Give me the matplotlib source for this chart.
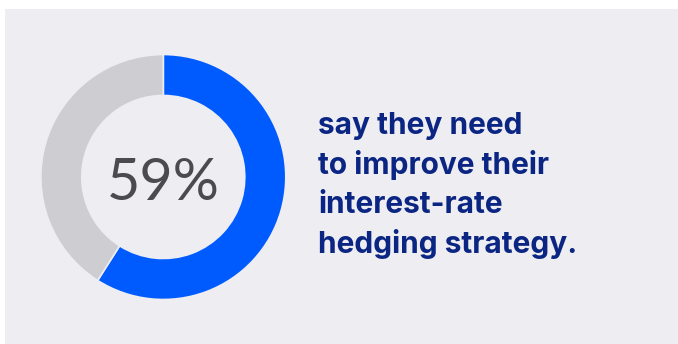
import matplotlib.pyplot as plt
from matplotlib.patches import Rectangle

# share of respondents
share = 59
values = [share, 100 - share]
colors = ["#005BFF", "#CDCDD2"]
lines = ["say they need", "to improve their", "interest-rate", "hedging strategy."]

W, H = 678, 344
fig = plt.figure(figsize=(W / 100, H / 100), dpi=100)
fig.patch.set_facecolor("white")
ax = fig.add_axes([0, 0, 1, 1])

# light panel behind everything
ax.add_patch(Rectangle((5, 0), W - 5, H - 9, facecolor="#EDEDF2", edgecolor="none", zorder=0))

# donut
cx, cy = 163.3, H - 177
ax.pie(values, colors=colors, startangle=90, counterclock=False,
       center=(cx, cy), radius=122.5,
       wedgeprops=dict(width=41, edgecolor="#EDEDF2", linewidth=1.2))

ax.text(cx, H - 200, f"{share}%", ha="center", va="baseline",
        fontsize=41.5, family="Lato", color="#4A4A4F")

# caption on the right
for i, line in enumerate(lines):
    ax.text(318, H - (134.3 + i * 39.5), line, ha="left", va="baseline",
            fontsize=21.5, family="Inter", fontweight="bold", color="#0B2583")

ax.set_xlim(0, W)
ax.set_ylim(0, H)
ax.set_aspect("equal")
ax.axis("off")

fig.savefig("out.png", dpi=100)
